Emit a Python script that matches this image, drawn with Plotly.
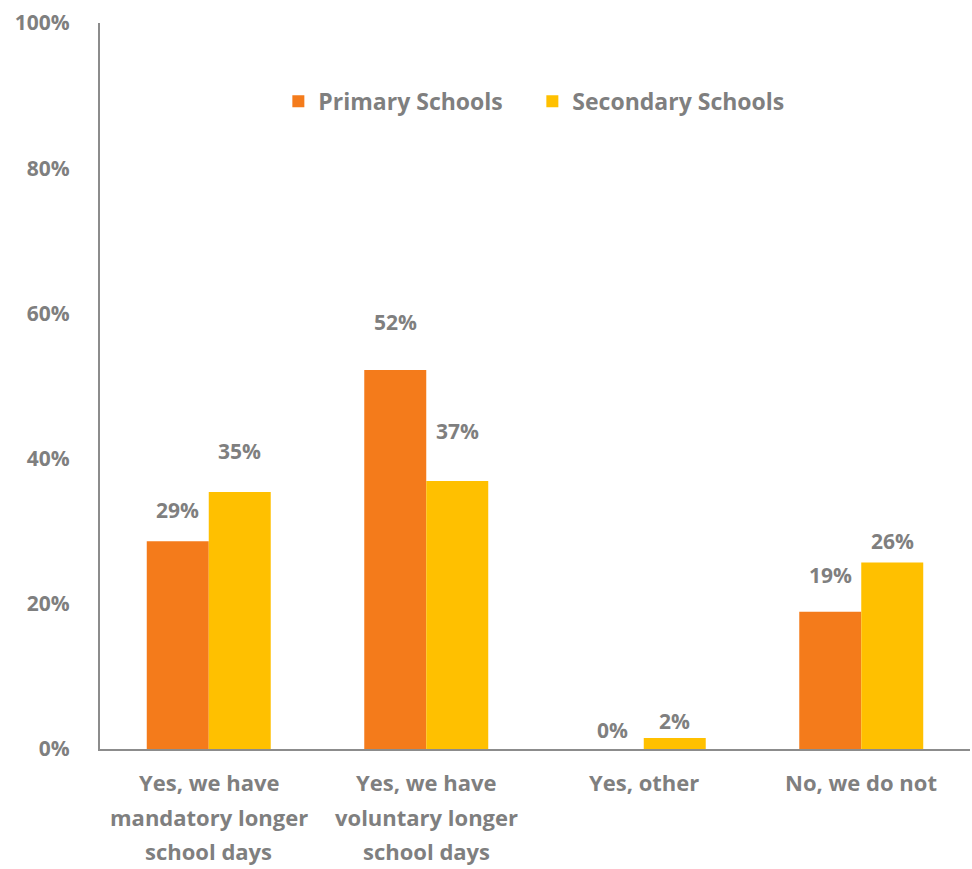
import plotly.graph_objects as go

categories = [
    "Yes, we have<br>mandatory longer<br>school days",
    "Yes, we have<br>voluntary longer<br>school days",
    "Yes, other",
    "No, we do not",
]
primary = [28.6, 52.2, 0.0, 18.9]
secondary = [35.4, 36.9, 1.5, 25.7]

# vertical lift (px) of each value label above its bar
primary_lift = [31, 48, 19, 37]
secondary_lift = [41, 50, 17, 21]

GREY = "#7f7f7f"
FONT = "Open Sans"

fig = go.Figure()
fig.add_bar(name="Primary Schools", x=categories, y=primary,
            marker=dict(color="#F47B1B", line=dict(width=0)))
fig.add_bar(name="Secondary Schools", x=categories, y=secondary,
            marker=dict(color="#FFC000", line=dict(width=0)))

half = 31
for cat, v, lift in zip(categories, primary, primary_lift):
    fig.add_annotation(x=cat, y=v, xref="x", yref="y", text=f"{v:.0f}%",
                       showarrow=False, xshift=-half, yshift=lift,
                       font=dict(family=FONT, size=21, color=GREY, weight="bold"))
for cat, v, lift in zip(categories, secondary, secondary_lift):
    fig.add_annotation(x=cat, y=v, xref="x", yref="y", text=f"{v:.0f}%",
                       showarrow=False, xshift=half, yshift=lift,
                       font=dict(family=FONT, size=21, color=GREY, weight="bold"))

# category labels, one line at a time for wider line spacing
for cat in categories:
    for i, line in enumerate(cat.split("<br>")):
        fig.add_annotation(x=cat, y=0, xref="x", yref="paper", text=line,
                           showarrow=False, yanchor="middle", yshift=-33 - 34.5 * i,
                           font=dict(family=FONT, size=22, color=GREY, weight="bold"))

fig.update_layout(
    width=972, height=869,
    margin=dict(l=100, r=2, t=23, b=120),
    paper_bgcolor="white", plot_bgcolor="white",
    barmode="group", bargap=0.43, bargroupgap=0,
    font=dict(family=FONT, color=GREY, size=20, weight="bold"),
    showlegend=True,
    legend=dict(orientation="h", x=0.205, y=0.892, xanchor="left", yanchor="middle",
                font=dict(family=FONT, size=23, color=GREY, weight="bold"),
                entrywidth=209, entrywidthmode="pixels",
                traceorder="normal", bgcolor="rgba(0,0,0,0)"),
    xaxis=dict(showline=True, linecolor="#8c8c8c", linewidth=2, ticks="",
               showgrid=False, showticklabels=False),
    yaxis=dict(range=[0, 100], tickvals=[0, 20, 40, 60, 80, 100],
               ticktext=["0%", "20%", "40%", "60%", "80%", "100%"],
               showline=True, linecolor="#8c8c8c", linewidth=2, ticks="",
               showgrid=False, zeroline=False, ticklabelstandoff=24,
               tickfont=dict(family=FONT, size=21, color=GREY, weight="bold")),
)

fig.write_html("out.html")
